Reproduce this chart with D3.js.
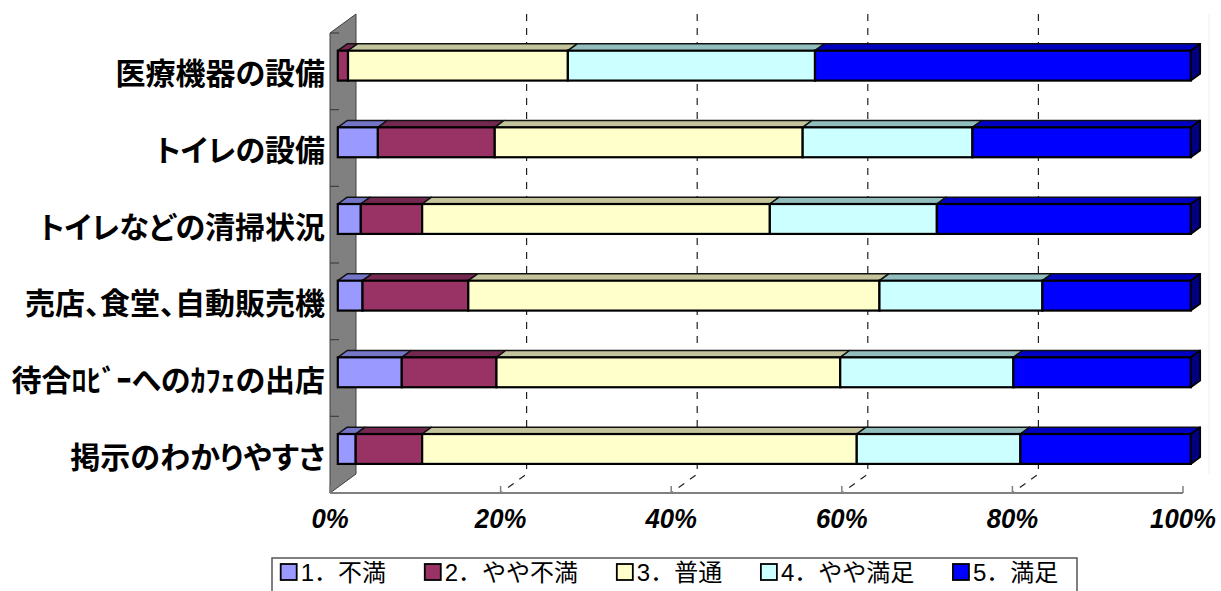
<!DOCTYPE html>
<html><head><meta charset="utf-8">
<script src="https://cdn.jsdelivr.net/npm/d3@7/dist/d3.min.js"></script>
<style>
html,body{margin:0;padding:0;background:#fff;}
svg{display:block;}
.cat{font-feature-settings:"palt";}
</style></head>
<body>
<svg id="chart" width="1221" height="591"></svg>
<script>
const categories = ["医療機器の設備","トイレの設備","トイレなどの清掃状況","売店、食堂、自動販売機","待合ﾛﾋﾞｰへのｶﾌｪの出店","掲示のわかりやすさ"];
const seriesNames = ["1．不満","2．やや不満","3．普通","4．やや満足","5．満足"];
const s1 = [0.0, 4.7, 2.7, 2.9, 7.5, 2.1];
const s2 = [1.2, 13.7, 7.2, 12.4, 11.1, 7.8];
const s3 = [25.8, 36.1, 40.8, 48.2, 40.3, 51.0];
const s4 = [29.0, 19.9, 19.6, 19.1, 20.3, 19.2];
const s5 = [44.1, 25.6, 29.8, 17.4, 20.8, 20.0];
const tickValues = [0, 20, 40, 60, 80, 100];
const tickLabels = ["0%","20%","40%","60%","80%","100%"];

const frontColors = ["#9999FF","#993366","#FFFFCC","#CCFFFF","#0000FF"];
const topColors   = ["#7575C8","#74284F","#C4C49C","#92BDBD","#0000C4"];
const sideColors  = ["#5C5C99","#5C1F3D","#99997A","#7A9999","#000080"];

const series = [s1,s2,s3,s4,s5];
const rows = categories.map((c,i)=>{
  const o = {cat:c};
  const tot = d3.sum(series, s=>s[i]);
  seriesNames.forEach((n,k)=>{ o[n] = series[k][i]/tot*100; });
  return o;
});

const svg = d3.select("#chart");
const x0 = 330, x1 = 1183, yTop = 33, yBot = 493;
const DX = 26, DY = -19;
const f0 = 0.3, f1 = 0.66;
const x = d3.scaleLinear().domain([0,100]).range([x0,x1]);
const y = d3.scaleBand().domain(categories).range([yTop,yBot]).paddingInner(0.61).paddingOuter(0.305);

// back wall faint edge
svg.append("line").attr("x1", x1+DX).attr("x2", x1+DX).attr("y1", yTop+DY).attr("y2", yBot+DY)
  .attr("stroke","#eeeeee").attr("stroke-width",1);

// gridlines
tickValues.filter(t=>t>0 && t<100).forEach(t=>{
  svg.append("path")
    .attr("d", `M${x(t)+DX},${yTop+DY} L${x(t)+DX},${yBot+DY} L${x(t)},${yBot}`)
    .attr("fill","none").attr("stroke","#222").attr("stroke-width",1.2)
    .attr("stroke-dasharray","7,7");
});

// side wall
svg.append("path")
  .attr("d", `M${x0},${yTop} L${x0+DX},${yTop+DY} L${x0+DX},${yBot+DY} L${x0},${yBot} Z`)
  .attr("fill","#808080").attr("stroke","#404040").attr("stroke-width",1);

// category ticks
const step = y.step();
d3.range(categories.length+1).forEach(k=>{
  const yy = yTop + k*step;
  svg.append("line").attr("x1",x0).attr("x2",x0+9).attr("y1",yy).attr("y2",yy)
    .attr("stroke","#404040").attr("stroke-width",1.2);
});

// floor front line + ticks
svg.append("line").attr("x1",x0).attr("x2",x1).attr("y1",yBot).attr("y2",yBot)
  .attr("stroke","#808080").attr("stroke-width",2);
tickValues.forEach(t=>{
  svg.append("line").attr("x1",x(t)).attr("x2",x(t)).attr("y1",yBot).attr("y2",yBot-7)
    .attr("stroke","#808080").attr("stroke-width",1.5);
});

// bars
const stacked = d3.stack().keys(seriesNames)(rows);
const ddx = (f1-f0)*DX, ddy = (f1-f0)*DY;
const bw = y.bandwidth();
const gBars = svg.append("g");
categories.forEach((c,i)=>{
  const yt = y(c) + f0*DY, yb = yt + bw;
  let last = null;
  stacked.forEach((layer,k)=>{
    const a = layer[i][0], b = layer[i][1];
    if (b - a <= 0.001) return;
    const xa = x(a) + f0*DX, xb = x(b) + f0*DX;
    gBars.append("path")
      .attr("d", `M${xa},${yt} L${xa+ddx},${yt+ddy} L${xb+ddx},${yt+ddy} L${xb},${yt} Z`)
      .attr("fill", topColors[k]).attr("stroke","#111").attr("stroke-width",1.5).attr("stroke-linejoin","round");
    gBars.append("rect")
      .attr("x", xa).attr("y", yt).attr("width", xb-xa).attr("height", bw)
      .attr("fill", frontColors[k]).attr("stroke","#000").attr("stroke-width",2.2);
    last = {xb, k};
  });
  if (last){
    const xb = last.xb;
    gBars.append("path")
      .attr("d", `M${xb},${yt} L${xb+ddx},${yt+ddy} L${xb+ddx},${yb+ddy} L${xb},${yb} Z`)
      .attr("fill", sideColors[last.k]).attr("stroke","#000").attr("stroke-width",1.8).attr("stroke-linejoin","round");
  }
});

// category labels
svg.append("g").selectAll("text").data(categories).join("text")
  .attr("class","cat")
  .attr("x", 325).attr("y", d=>y(d)+bw/2)
  .attr("text-anchor","end").attr("dominant-baseline","central")
  .attr("font-family","'Noto Sans CJK JP', sans-serif").attr("font-weight",700)
  .attr("font-size",30).attr("fill","#000").text(d=>d);

// value labels
svg.append("g").selectAll("text").data(tickValues).join("text")
  .attr("transform", d=>`translate(${x(d)},528) scale(0.92,1)`)
  .attr("text-anchor","middle")
  .attr("font-family","'Liberation Sans', Arial, sans-serif").attr("font-weight",700)
  .attr("font-style","italic").attr("font-size",28).attr("fill","#000")
  .text((d,i)=>tickLabels[i]);

// legend
const lg = svg.append("g");
const boxX = 272, boxW = 805, boxY = 558;
lg.append("rect").attr("x",boxX).attr("y",boxY).attr("width",boxW).attr("height",45)
  .attr("fill","#fff").attr("stroke","#555").attr("stroke-width",1.5);
const fs = 24;
const items = seriesNames.map((n,k)=>{
  const g = lg.append("g");
  g.append("rect").attr("x",0).attr("y",-8).attr("width",16).attr("height",16)
    .attr("fill",frontColors[k]).attr("stroke","#000").attr("stroke-width",1.8);
  const t = g.append("text").attr("x",20).attr("y",0).attr("dominant-baseline","central")
    .attr("font-family","'Liberation Sans','Noto Sans CJK JP', sans-serif")
    .attr("font-size",fs).attr("fill","#000").text(n);
  return {g, w: 20 + t.node().getComputedTextLength()};
});
const inner = boxW - 2*8.7;
const totalW = d3.sum(items, d=>d.w);
const gap = (inner - totalW - 10) / (items.length-1);
let cx = boxX + 8.7;
items.forEach(it=>{
  it.g.attr("transform", `translate(${cx},${572})`);
  cx += it.w + gap;
});
</script>
</body></html>
